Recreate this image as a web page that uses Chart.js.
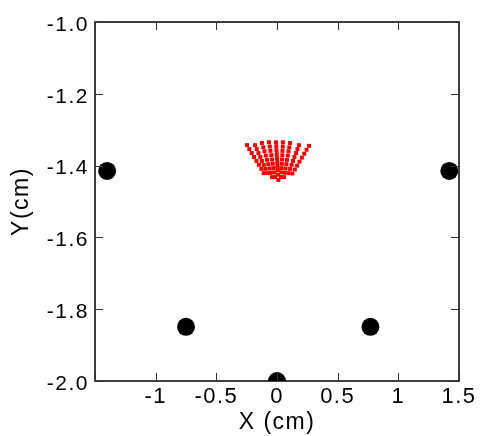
<!DOCTYPE html>
<html><head><meta charset="utf-8">
<script src="https://cdn.jsdelivr.net/npm/chart.js@4"></script>
<style>html,body{margin:0;padding:0;background:#fff}</style>
</head><body>
<canvas id="c" width="480" height="436"></canvas>
<script>
// ---- data ----
const xTicks = [-1.5, -1, -0.5, 0, 0.5, 1, 1.5];
const yTicks = [-2.0, -1.8, -1.6, -1.4, -1.2, -1.0];

// black markers (large dots)
const sensorX = [-1.40, 1.42, -0.75, 0.77, 0.0];
const sensorY = [-1.415, -1.415, -1.849, -1.849, -2.0];

// red fan-shaped cluster
const redX = [
  -0.247,-0.228,-0.208,-0.189,-0.169,-0.149,-0.129,-0.110,
  -0.181,-0.167,-0.153,-0.138,-0.124,-0.109,-0.095,-0.080,
  -0.124,-0.113,-0.103,-0.092,-0.082,-0.072,-0.062,-0.051,-0.041,
  -0.066,-0.059,-0.054,-0.047,-0.041,-0.035,-0.029,-0.022,-0.016,
  -0.008,-0.006,-0.004,-0.002,0.000,0.002,0.004,0.007,0.008,0.011,
  0.049,0.048,0.045,0.044,0.041,0.040,0.037,0.035,0.033,
  0.107,0.101,0.095,0.089,0.082,0.077,0.070,0.064,0.058,
  0.181,0.169,0.157,0.144,0.132,0.120,0.107,0.095,
  0.264,0.244,0.225,0.205,0.185,0.166,0.147,0.127
];
const redY = [
  -1.343,-1.354,-1.365,-1.376,-1.387,-1.398,-1.409,-1.421,
  -1.343,-1.354,-1.365,-1.376,-1.387,-1.398,-1.409,-1.421,
  -1.337,-1.349,-1.360,-1.372,-1.384,-1.396,-1.408,-1.420,-1.432,
  -1.335,-1.347,-1.359,-1.371,-1.383,-1.395,-1.407,-1.419,-1.432,
  -1.335,-1.346,-1.357,-1.368,-1.379,-1.390,-1.401,-1.412,-1.425,-1.440,
  -1.335,-1.347,-1.359,-1.371,-1.383,-1.395,-1.407,-1.419,-1.432,
  -1.337,-1.349,-1.360,-1.372,-1.384,-1.396,-1.408,-1.420,-1.432,
  -1.343,-1.354,-1.365,-1.376,-1.387,-1.398,-1.409,-1.421,
  -1.345,-1.356,-1.367,-1.378,-1.389,-1.400,-1.411,-1.422
];

const sensorPts = sensorX.map((v, i) => ({x: v, y: sensorY[i]}));
const redPts = redX.map((v, i) => ({x: v, y: redY[i]}));

const SP = '1.5px';
const spacingPlugin = {
  id: 'spacing',
  beforeUpdate(c) { c.ctx.letterSpacing = SP; },
  beforeLayout(c) { c.ctx.letterSpacing = SP; },
  beforeDraw(c) { c.ctx.letterSpacing = SP; }
};

const framePlugin = {
  id: 'frame',
  afterDatasetsDraw(chart) {
    const {ctx, chartArea: a, scales: {x, y}} = chart;
    ctx.save();
    ctx.strokeStyle = '#000';
    ctx.lineWidth = 1.5;
    ctx.strokeRect(a.left, a.top, a.right - a.left, a.bottom - a.top);
    ctx.lineWidth = 1;
    ctx.strokeStyle = '#333';
    const L = 8;
    ctx.beginPath();
    xTicks.forEach(v => {
      const p = Math.round(x.getPixelForValue(v)) + 0.5;
      ctx.moveTo(p, a.bottom); ctx.lineTo(p, a.bottom - L);
      ctx.moveTo(p, a.top); ctx.lineTo(p, a.top + L);
    });
    yTicks.forEach(v => {
      const p = Math.round(y.getPixelForValue(v)) + 0.5;
      ctx.moveTo(a.left, p); ctx.lineTo(a.left + L, p);
      ctx.moveTo(a.right, p); ctx.lineTo(a.right - L, p);
    });
    ctx.stroke();
    ctx.restore();
  }
};

const FONT = '"Liberation Sans", Arial, sans-serif';

new Chart(document.getElementById('c'), {
  type: 'scatter',
  data: {
    datasets: [
      {
        data: redPts,
        pointStyle: 'rect',
        pointRadius: 2.8,
        pointBackgroundColor: '#ff0000',
        pointBorderWidth: 0,
        clip: 0
      },
      {
        data: sensorPts,
        pointStyle: 'circle',
        pointRadius: 9,
        pointBackgroundColor: '#000',
        pointBorderWidth: 0,
        clip: 0
      }
    ]
  },
  options: {
    responsive: false,
    devicePixelRatio: 1,
    animation: false,
    events: [],
    layout: {padding: {left: 0, right: 21, top: 22, bottom: 0}},
    plugins: {legend: {display: false}, tooltip: {enabled: false}},
    scales: {
      x: {
        type: 'linear',
        min: -1.5, max: 1.5,
        afterBuildTicks: s => { s.ticks = xTicks.map(v => ({value: v})); },
        afterFit: s => { s.height = 55; },
        grid: {display: false, drawTicks: false},
        border: {display: false},
        ticks: {
          color: '#000',
          padding: 3,
          maxRotation: 0,
          autoSkip: false,
          font: {family: FONT, size: 22},
          callback: v => (v === -1.5 ? '' : String(v))
        },
        title: {
          display: true, text: 'X (cm)', color: '#000',
          padding: {top: 0, bottom: 0},
          font: {family: FONT, size: 23}
        }
      },
      y: {
        type: 'linear',
        min: -2.0, max: -1.0,
        afterBuildTicks: s => { s.ticks = yTicks.map(v => ({value: v})); },
        afterFit: s => { s.width = 95; },
        grid: {display: false, drawTicks: false},
        border: {display: false},
        ticks: {
          color: '#000',
          padding: 6,
          labelOffset: 3,
          autoSkip: false,
          font: {family: FONT, size: 21},
          callback: v => Number(v).toFixed(1)
        },
        title: {
          display: true, text: 'Y(cm)', color: '#000',
          padding: {top: 8, bottom: 0},
          font: {family: FONT, size: 23}
        }
      }
    }
  },
  plugins: [spacingPlugin, framePlugin]
});
</script>
</body></html>
